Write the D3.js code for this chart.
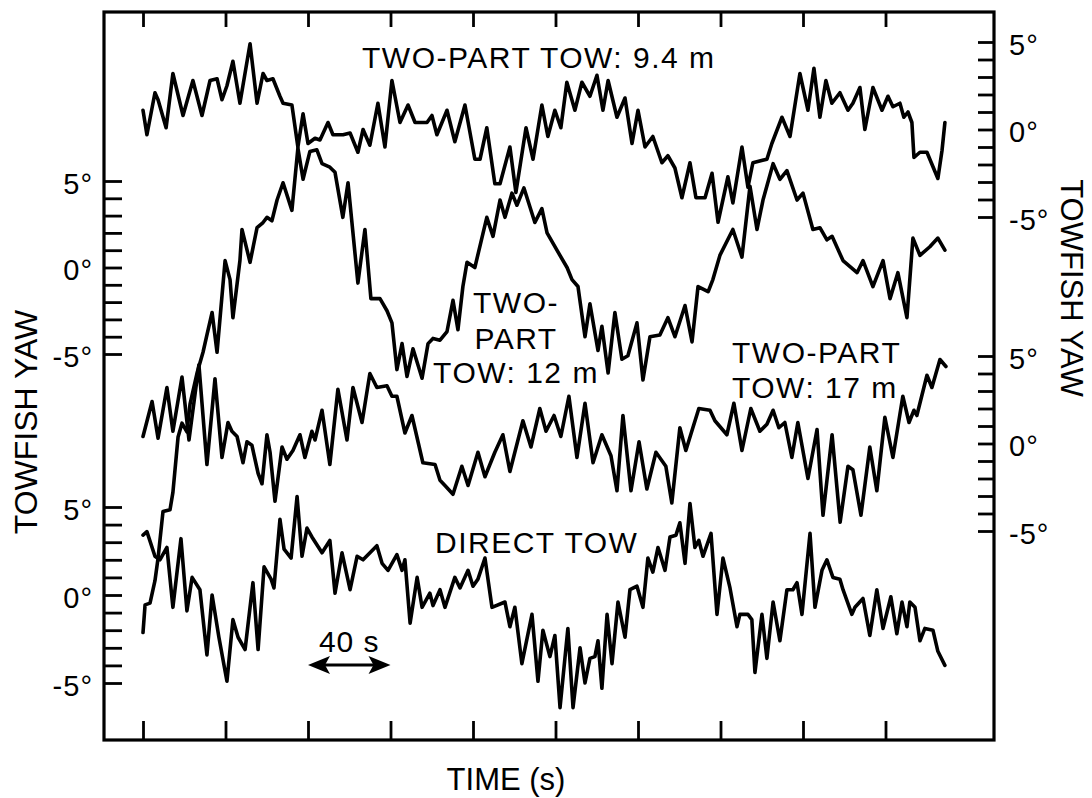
<!DOCTYPE html>
<html>
<head>
<meta charset="utf-8">
<script src="https://cdn.jsdelivr.net/npm/d3@7"></script>
<style>
  body { margin: 0; background: #fff; }
  text { font-family: "Liberation Sans", Arial, Helvetica, sans-serif; fill: #000; }
</style>
</head>
<body>
<div id="chart"></div>
<script>
// time axis (s), one tick every 40 s
var timeTicks = [0, 40, 80, 120, 160, 200, 240, 280, 320, 360];
// yaw ticks (deg) and the ones that carry a label
var yawTicks = [-5, -4, -3, -2, -1, 0, 1, 2, 3, 4, 5];
var yawLabeled = [-5, 0, 5];
var scaleBar = [80, 120]; // the "40 s" arrow

// TWO-PART TOW: 9.4 m  (right, upper scale)
var tow94Time = [0, 1.9, 5.8, 7.3, 11.2, 14.5, 19.4, 24.2, 28.6, 32.5,
  35.9, 38.3, 40.7, 43.6, 47.0, 51.9, 55.3, 58.2, 60.1, 63.0,
  66.4, 67.9, 72.2, 75.1, 77.6, 80.0, 83.4, 85.8, 89.7, 92.1,
  97.0, 100.4, 104.2, 106.7, 110.0, 113.9, 117.3, 120.7, 124.6, 128.5,
  131.9, 137.7, 140.1, 142.5, 147.4, 151.2, 156.1, 160.9, 163.4, 166.7,
  170.6, 173.1, 177.9, 180.8, 185.7, 189.1, 193.4, 196.3, 199.7, 202.6,
  205.5, 209.4, 212.8, 216.7, 220.1, 223.0, 225.5, 229.8, 233.7, 237.1,
  240.0, 243.4, 247.2, 251.6, 254.5, 257.9, 261.3, 265.2, 268.1, 272.5,
  275.9, 278.8, 283.6, 286.0, 290.4, 293.3, 295.7, 302.5, 304.9, 309.8,
  313.7, 318.5, 322.4, 325.3, 328.2, 331.1, 334.0, 337.9, 341.8, 344.2,
  347.6, 350.0, 353.9, 358.3, 361.2, 363.6, 367.0, 368.9, 370.9, 372.8,
  373.8, 376.7, 380.1, 381.5, 385.4, 387.4, 388.8];
var tow94Yaw = [1.1, -0.3, 2.1, 1.7, 0.1, 3.2, 0.8, 2.8, 0.8, 2.8,
  2.9, 1.7, 2.5, 3.9, 1.5, 4.9, 1.5, 3.2, 2.8, 2.9,
  1.9, 1.5, 1.4, -1.0, 0.9, -0.8, -0.5, -0.6, 0.4, -0.3,
  -0.3, -0.2, -1.3, 0.0, -0.9, 1.5, -1.0, 2.8, 0.4, 1.4,
  0.4, 0.4, 0.8, -0.3, 1.1, -0.7, 1.4, -1.7, -1.7, 0.1,
  -3.1, -3.1, -1.0, -3.6, 0.1, -1.7, 1.4, -0.4, 1.1, 0.1,
  2.7, 1.1, 2.7, 1.9, 3.1, 1.1, 2.8, 0.7, 1.8, -0.8,
  1.1, -1.0, -0.4, -1.9, -1.5, -2.2, -3.9, -1.9, -3.9, -3.9,
  -2.5, -5.3, -2.7, -4.2, -1.0, -3.3, -1.9, -1.7, -0.8, 0.7,
  -0.4, 3.2, 1.1, 3.5, 0.7, 2.8, 1.5, 2.1, 1.1, 1.5,
  2.4, 0.0, 2.4, 1.1, 1.9, 1.3, 1.5, 0.7, 1.0, 0.4,
  -1.6, -1.3, -1.3, -1.7, -2.8, -1.2, 0.4];

// TWO-PART TOW: 12 m  (left, upper scale)
var tow12Time = [0, 1.0, 3.4, 5.8, 7.3, 9.7, 13.1, 14.5, 17.0, 18.9,
  21.3, 22.8, 26.2, 29.1, 31.0, 33.5, 35.9, 39.8, 42.2, 43.6,
  47.0, 48.0, 51.9, 55.3, 58.2, 60.1, 62.5, 65.0, 67.9, 72.2,
  75.1, 77.6, 80.9, 84.3, 86.8, 90.6, 93.1, 96.9, 99.4, 104.2,
  107.6, 110.5, 114.9, 118.3, 120.7, 123.1, 125.6, 128.0, 130.9, 135.3,
  138.2, 140.6, 144.0, 147.4, 150.3, 152.7, 155.1, 157.1, 160.9, 166.7,
  169.7, 173.1, 175.5, 178.9, 181.3, 184.7, 190.0, 193.4, 195.9, 200.7,
  205.6, 208.0, 210.9, 214.3, 216.7, 220.6, 222.5, 225.5, 228.8, 232.2,
  235.1, 239.5, 242.4, 245.8, 250.6, 254.5, 257.9, 262.8, 266.2, 269.1,
  274.0, 276.3, 279.7, 286.0, 290.4, 294.3, 297.7, 300.6, 305.5, 308.8,
  312.2, 317.1, 320.0, 324.8, 328.2, 331.6, 334.1, 339.4, 346.2, 349.1,
  353.9, 358.8, 362.2, 366.0, 370.4, 373.3, 376.7, 381.5, 385.4, 388.8];
var tow12Yaw = [-21.1, -19.5, -19.4, -18.1, -16.8, -14.1, -14.0, -13.0, -9.8, -9.0,
  -9.5, -7.9, -6.1, -4.9, -3.9, -2.6, -4.9, 0.4, -0.7, -2.9,
  0.4, 2.2, 0.3, 2.3, 2.6, 2.9, 2.7, 3.9, 4.9, 3.3,
  6.9, 5.1, 6.7, 6.8, 6.0, 5.8, 5.5, 2.9, 4.9, -0.9,
  2.2, -1.8, -1.8, -2.5, -3.2, -5.9, -4.4, -6.3, -4.7, -6.4,
  -4.4, -4.1, -4.2, -3.7, -1.9, -3.6, -1.1, 0.3, 0.0, 2.9,
  1.8, 3.9, 2.9, 4.3, 3.6, 4.6, 2.6, 3.4, 2.0, 1.0,
  0.0, -0.7, -1.1, -4.0, -2.1, -4.8, -3.4, -6.1, -2.6, -5.3,
  -5.1, -3.2, -6.5, -4.0, -3.9, -2.9, -4.0, -2.2, -4.3, -1.1,
  -1.4, -0.7, 0.7, 2.2, 0.6, 4.7, 2.2, 3.9, 6.0, 5.1,
  5.6, 3.9, 4.3, 2.2, 2.3, 1.6, 1.8, 0.4, -0.3, 0.4,
  -1.1, 0.4, -1.8, -0.3, -2.9, 1.7, 0.7, 1.2, 1.7, 1.0];

// TWO-PART TOW: 17 m  (right, lower scale)
var tow17Time = [0, 4.4, 7.3, 11.6, 14.5, 18.9, 22.3, 27.1, 31.0, 34.9,
  38.3, 41.2, 43.1, 45.6, 48.5, 50.4, 52.8, 55.8, 57.7, 60.1,
  61.6, 64.0, 67.4, 69.8, 72.7, 76.1, 78.5, 81.9, 83.4, 86.8,
  90.6, 94.5, 98.9, 101.8, 106.2, 110.0, 113.4, 118.3, 120.7, 123.1,
  127.0, 130.4, 135.7, 141.6, 144.0, 146.4, 150.3, 154.6, 157.6, 162.4,
  165.8, 170.6, 174.5, 177.9, 184.2, 188.1, 192.4, 195.4, 199.3, 202.6,
  206.5, 210.4, 214.3, 218.2, 222.5, 226.9, 229.8, 232.7, 236.6, 240.5,
  244.3, 248.7, 253.5, 256.4, 260.3, 263.2, 266.6, 269.5, 274.9, 277.3,
  283.1, 286.5, 290.4, 294.7, 299.1, 302.5, 305.5, 308.3, 311.2, 314.6,
  317.5, 322.4, 326.8, 329.7, 334.1, 338.0, 341.8, 344.2, 348.1, 352.4,
  355.8, 359.7, 363.6, 368.4, 371.4, 373.8, 375.2, 380.1, 382.5, 386.4,
  389.3];
var tow17Yaw = [0.4, 2.4, 0.3, 3.2, 0.7, 3.8, 0.2, 4.5, -1.2, 3.7,
  -0.8, 1.2, 0.7, 0.4, -1.1, 0.1, -0.1, -1.7, -2.3, 0.5,
  -0.5, -3.3, -0.2, -0.9, -0.4, 0.5, -0.8, 0.7, 0.2, 1.9,
  -1.2, 3.1, 0.2, 3.2, 1.2, 4.0, 3.2, 3.3, 2.7, 2.7,
  0.6, 1.6, -1.1, -1.2, -2.1, -2.4, -2.9, -1.3, -2.4, -0.5,
  -1.9, -0.5, 0.5, -1.6, 1.3, -0.2, 2.0, 0.7, 1.6, 0.4,
  2.7, -0.8, 2.3, -1.1, 0.5, -0.7, -2.7, 1.6, -2.7, 0.1,
  -2.6, -0.5, -1.3, -3.4, 0.9, -0.4, 0.9, 2.0, 1.9, 1.3,
  0.5, 2.3, -0.4, 2.0, 0.7, 1.1, 1.9, 0.9, 1.2, -0.8,
  1.2, -2.0, 0.8, -4.1, 0.5, -4.5, -1.3, -1.5, -4.1, -0.2,
  -2.7, 1.5, -0.8, 2.7, 1.2, 1.9, 1.6, 3.9, 3.2, 4.8,
  4.4];

// DIRECT TOW  (left, lower scale)
var directTime = [0, 1.9, 5.8, 8.2, 11.6, 14.5, 18.4, 21.3, 23.8, 27.6,
  31.0, 33.5, 36.8, 40.7, 43.6, 46.1, 49.5, 53.3, 55.8, 58.7,
  62.1, 63.5, 66.4, 68.4, 71.8, 74.7, 77.1, 79.5, 81.9, 86.8,
  90.6, 93.1, 96.5, 100.4, 103.8, 106.7, 113.4, 115.9, 118.8, 123.1,
  125.6, 127.0, 129.5, 132.9, 135.3, 139.1, 140.6, 144.0, 146.4, 151.2,
  153.7, 157.6, 160.0, 162.4, 165.8, 169.2, 175.5, 177.9, 180.3, 183.7,
  188.6, 191.5, 193.9, 197.3, 199.7, 202.2, 206.0, 208.5, 211.9, 214.3,
  216.7, 219.1, 220.6, 222.5, 225.0, 227.4, 230.3, 233.7, 236.1, 239.5,
  242.4, 244.8, 247.2, 249.7, 253.1, 255.5, 258.4, 260.3, 262.8, 265.2,
  267.6, 269.5, 271.5, 275.4, 278.3, 281.2, 284.6, 288.0, 289.4, 293.3,
  295.2, 296.7, 300.1, 302.5, 305.5, 308.8, 312.2, 315.1, 317.1, 319.5,
  323.4, 325.8, 329.2, 331.6, 334.5, 337.9, 339.4, 343.7, 345.2, 349.1,
  352.4, 355.8, 358.8, 362.6, 365.5, 368.0, 370.4, 371.8, 374.3, 376.7,
  379.1, 383.0, 385.4, 388.8];
var directYaw = [3.4, 3.6, 2.2, 2.0, 2.7, -0.7, 3.2, -0.9, 1.0, 0.3,
  -3.4, 0.0, -2.4, -4.9, -1.4, -2.4, -3.1, 0.7, -3.1, 1.6,
  0.9, 0.4, 4.3, 2.6, 2.1, 5.6, 2.2, 3.8, 3.3, 2.4,
  3.1, 0.1, 2.4, 0.3, 2.2, 2.0, 2.8, 1.8, 1.4, 2.3,
  1.4, 2.0, -1.6, 1.0, -0.7, 0.1, -0.6, 0.3, -0.7, 1.0,
  0.4, 1.4, 0.5, 0.9, 2.1, -0.7, -0.4, -1.8, -0.7, -3.9,
  -1.1, -4.9, -2.0, -3.5, -2.3, -6.4, -1.9, -6.4, -3.0, -5.0,
  -3.6, -3.5, -2.6, -5.3, -1.1, -3.9, -0.4, -2.4, 0.3, 0.5,
  -0.7, 2.1, 1.3, 2.7, 1.4, 3.3, 3.4, 4.1, 1.8, 5.2,
  2.7, 3.1, 2.2, 3.5, -1.1, 2.1, 0.4, -1.8, -1.1, -1.1,
  -1.4, -4.4, -1.1, -3.6, -0.4, -2.6, 0.3, 0.3, 0.7, -1.1,
  3.5, -0.7, 1.4, 2.0, 1.0, 0.9, 0.3, -1.1, -0.7, -0.2,
  -2.3, 0.3, -1.9, -0.1, -2.2, -0.4, -1.8, -0.4, -0.7, -2.6,
  -1.9, -2.0, -3.2, -4.0];

var width = 1092;
var height = 798;
var fontFamily = '"Liberation Sans", Arial, Helvetica, sans-serif';
var frame = { left: 104, right: 994, top: 12, bottom: 740 };

var svg = d3.select('#chart')
  .append('svg')
  .attr('width', width)
  .attr('height', height);

var x = d3.scaleLinear().domain([0, 360]).range([143, 885.5]);

function yawScale(bottom, top) {
  return d3.scaleLinear().domain([-5, 5]).range([bottom, top]);
}
var y94 = yawScale(217, 42);
var y12 = yawScale(354, 181);
var y17 = yawScale(531, 356);
var yDirect = yawScale(683, 507);

function degLabel(d) {
  return yawLabeled.indexOf(d) >= 0 ? d + '\u00B0' : '';
}

function styleAxis(g) {
  g.attr('font-family', fontFamily).attr('font-size', 29);
  g.select('.domain').remove();
  g.selectAll('line').attr('stroke', '#000').attr('stroke-width', 2.8);
  g.selectAll('text').attr('dy', '0.42em').attr('fill', '#000').attr('letter-spacing', 1);
}

// left scales
[y12, yDirect].forEach(function (y) {
  svg.append('g')
    .attr('transform', 'translate(' + frame.left + ',0)')
    .call(d3.axisLeft(y).tickValues(yawTicks).tickFormat(degLabel)
      .tickSizeInner(-18).tickSizeOuter(0).tickPadding(11))
    .call(styleAxis);
});

// right scales
[y94, y17].forEach(function (y) {
  svg.append('g')
    .attr('transform', 'translate(' + frame.right + ',0)')
    .call(d3.axisRight(y).tickValues(yawTicks).tickFormat(degLabel)
      .tickSizeInner(-16).tickSizeOuter(0).tickPadding(15))
    .call(styleAxis);
});

// time ticks, top and bottom
svg.append('g')
  .attr('transform', 'translate(0,' + frame.top + ')')
  .call(d3.axisTop(x).tickValues(timeTicks).tickFormat('').tickSizeInner(-15).tickSizeOuter(0))
  .call(styleAxis);
svg.append('g')
  .attr('transform', 'translate(0,' + frame.bottom + ')')
  .call(d3.axisBottom(x).tickValues(timeTicks).tickFormat('').tickSizeInner(-19).tickSizeOuter(0))
  .call(styleAxis);

// frame
svg.append('rect')
  .attr('x', frame.left)
  .attr('y', frame.top)
  .attr('width', frame.right - frame.left)
  .attr('height', frame.bottom - frame.top)
  .attr('fill', 'none')
  .attr('stroke', '#000')
  .attr('stroke-width', 3.2);

// traces
var series = [
  { time: tow94Time, yaw: tow94Yaw, y: y94 },
  { time: tow12Time, yaw: tow12Yaw, y: y12 },
  { time: tow17Time, yaw: tow17Yaw, y: y17 },
  { time: directTime, yaw: directYaw, y: yDirect }
];
series.forEach(function (s) {
  var line = d3.line()
    .x(function (d, i) { return x(s.time[i]); })
    .y(function (d) { return s.y(d); });
  svg.append('path')
    .datum(s.yaw)
    .attr('d', line)
    .attr('fill', 'none')
    .attr('stroke', '#000')
    .attr('stroke-width', 3.6)
    .attr('stroke-linejoin', 'round')
    .attr('stroke-linecap', 'round');
});

// trace labels
function label(txt, tx, ty, anchor) {
  svg.append('text')
    .attr('x', tx)
    .attr('y', ty)
    .attr('text-anchor', anchor || 'start')
    .attr('font-size', 30)
    .attr('letter-spacing', 1.5)
    .text(txt);
}
label('TWO-PART TOW: 9.4 m', 362, 68);
label('TWO-', 516, 313, 'middle');
label('PART', 516, 349, 'middle');
label('TOW: 12 m', 516, 383, 'middle');
label('TWO-PART', 732, 363);
label('TOW: 17 m', 732, 398);
label('DIRECT TOW', 435, 553);

// 40 s scale bar
var ay = 665;
var x0 = x(scaleBar[0]);
var x1 = x(scaleBar[1]);
svg.append('line')
  .attr('x1', x0 + 10).attr('x2', x1 - 10)
  .attr('y1', ay).attr('y2', ay)
  .attr('stroke', '#000').attr('stroke-width', 3.2);
svg.append('path')
  .attr('d', 'M' + x0 + ',' + ay + 'L' + (x0 + 22) + ',' + (ay - 9) + 'L' + (x0 + 17) + ',' + ay + 'L' + (x0 + 22) + ',' + (ay + 9) + 'Z')
  .attr('fill', '#000');
svg.append('path')
  .attr('d', 'M' + x1 + ',' + ay + 'L' + (x1 - 22) + ',' + (ay - 9) + 'L' + (x1 - 17) + ',' + ay + 'L' + (x1 - 22) + ',' + (ay + 9) + 'Z')
  .attr('fill', '#000');
svg.append('text')
  .attr('x', (x0 + x1) / 2)
  .attr('y', 652)
  .attr('text-anchor', 'middle')
  .attr('font-size', 30)
  .attr('letter-spacing', 1)
  .text(scaleBar[1] - scaleBar[0] + ' s');

// axis titles
svg.append('text')
  .attr('transform', 'translate(37,422) rotate(-90)')
  .attr('text-anchor', 'middle')
  .attr('font-size', 32)
  .text('TOWFISH YAW');
svg.append('text')
  .attr('transform', 'translate(1061,288) rotate(90)')
  .attr('text-anchor', 'middle')
  .attr('font-size', 31)
  .text('TOWFISH YAW');
svg.append('text')
  .attr('x', 506)
  .attr('y', 790)
  .attr('text-anchor', 'middle')
  .attr('font-size', 31)
  .text('TIME (s)');
</script>
</body>
</html>
